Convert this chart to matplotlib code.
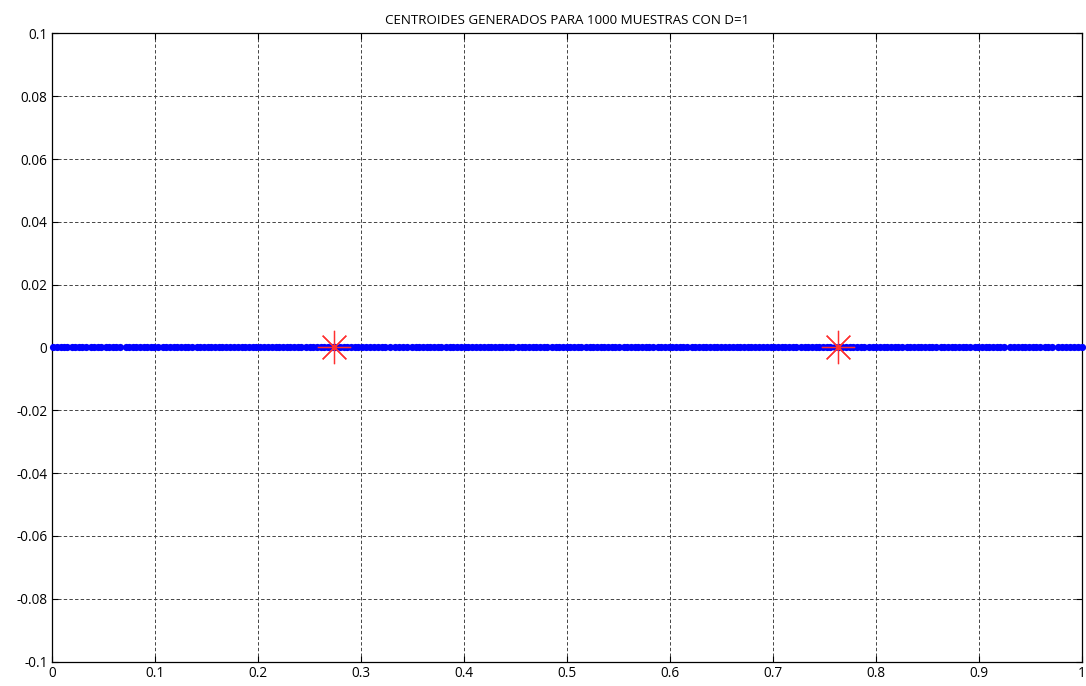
import numpy as np
import matplotlib.pyplot as plt

# muestras (todas con y=0) y centroides encontrados
muestras_x = [
    0.001, 0.004, 0.008, 0.011, 0.014, 0.019, 0.022, 0.026, 0.029, 0.033,
    0.037, 0.040, 0.044, 0.047, 0.052, 0.055, 0.059, 0.062, 0.066, 0.071,
    0.074, 0.078, 0.081, 0.085, 0.089, 0.092, 0.096, 0.099,
    0.103, 0.107, 0.110, 0.114, 0.118, 0.121, 0.125, 0.129, 0.132, 0.136,
    0.140, 0.143, 0.147, 0.151, 0.154, 0.158, 0.162, 0.165, 0.169, 0.173,
    0.176, 0.180, 0.184, 0.187, 0.191, 0.195, 0.198,
    0.202, 0.206, 0.209, 0.213, 0.217, 0.220, 0.224, 0.228, 0.231, 0.235,
    0.239, 0.242, 0.246, 0.250, 0.253, 0.257, 0.261, 0.264, 0.268, 0.272,
    0.275, 0.279, 0.283, 0.286, 0.290, 0.294, 0.297,
    0.301, 0.305, 0.309, 0.312, 0.316, 0.320, 0.323, 0.328, 0.333, 0.337,
    0.341, 0.345, 0.349, 0.353, 0.356, 0.360, 0.364, 0.367, 0.371, 0.375,
    0.378, 0.382, 0.386, 0.389, 0.393, 0.397,
    0.401, 0.404, 0.408, 0.412, 0.415, 0.419, 0.423, 0.426, 0.430, 0.434,
    0.437, 0.441, 0.445, 0.448, 0.452, 0.456, 0.459, 0.463, 0.467, 0.470,
    0.474, 0.478, 0.481, 0.485, 0.489, 0.492, 0.496,
    0.500, 0.503, 0.507, 0.511, 0.514, 0.518, 0.522, 0.525, 0.529, 0.533,
    0.536, 0.540, 0.544, 0.547, 0.551, 0.555, 0.558, 0.562, 0.566, 0.569,
    0.573, 0.577, 0.580, 0.584, 0.588, 0.591, 0.595, 0.599,
    0.602, 0.606, 0.610, 0.613, 0.617, 0.621, 0.624, 0.628, 0.632, 0.635,
    0.639, 0.643, 0.646, 0.650, 0.654, 0.657, 0.661, 0.665, 0.668, 0.672,
    0.676, 0.679, 0.683, 0.687, 0.690, 0.694, 0.698,
    0.701, 0.705, 0.709, 0.712, 0.716, 0.720, 0.723, 0.727, 0.731, 0.734,
    0.738, 0.742, 0.745, 0.749, 0.753, 0.756, 0.760, 0.764, 0.767, 0.771,
    0.775, 0.778, 0.782, 0.786, 0.789, 0.793, 0.797,
    0.800, 0.804, 0.808, 0.811, 0.815, 0.819, 0.822, 0.826, 0.830, 0.833,
    0.837, 0.841, 0.844, 0.848, 0.852, 0.855, 0.859, 0.863, 0.866, 0.870,
    0.874, 0.877, 0.881, 0.885, 0.888, 0.892, 0.896, 0.899,
    0.903, 0.907, 0.910, 0.914, 0.918, 0.921, 0.925, 0.930, 0.934, 0.938,
    0.942, 0.945, 0.949, 0.953, 0.956, 0.960, 0.964, 0.967, 0.971, 0.977,
    0.981, 0.985, 0.989, 0.993, 0.997, 1.000,
]
centroides_x = [0.274, 0.763]

xticks = [0, 0.1, 0.2, 0.3, 0.4, 0.5, 0.6, 0.7, 0.8, 0.9, 1]
xlabels = ["0", "0.1", "0.2", "0.3", "0.4", "0.5", "0.6", "0.7", "0.8", "0.9", "1"]
yticks = [-0.1, -0.08, -0.06, -0.04, -0.02, 0, 0.02, 0.04, 0.06, 0.08, 0.1]
ylabels = ["-0.1", "-0.08", "-0.06", "-0.04", "-0.02", "0",
           "0.02", "0.04", "0.06", "0.08", "0.1"]

plt.rcParams['font.family'] = ['Open Sans', 'DejaVu Sans']

fig = plt.figure(figsize=(10.86, 6.86), dpi=100)
ax = fig.add_axes([0.0483, 0.0357, 0.9476, 0.9155])

ax.plot(muestras_x, np.zeros(len(muestras_x)), 'o', color='#0000ff',
        markersize=5.2, markeredgewidth=0, zorder=3, clip_on=False)
ax.plot(centroides_x, np.zeros(len(centroides_x)), linestyle='none',
        marker=(8, 2, 0), color='#ff3030', markersize=24,
        markeredgewidth=0.9, zorder=4)

ax.set_xlim(0, 1)
ax.set_ylim(-0.1, 0.1)
ax.set_xticks(xticks)
ax.set_xticklabels(xlabels)
ax.set_yticks(yticks)
ax.set_yticklabels(ylabels)
ax.tick_params(direction='in', top=True, right=True, length=4, width=0.8,
               labelsize=9.8, pad=3.5)
ax.grid(True, color='#444444', linestyle=(0, (3.5, 2.3)), linewidth=0.7)
for s in ax.spines.values():
    s.set_linewidth(0.9)

ax.set_title("CENTROIDES GENERADOS PARA 1000 MUESTRAS CON D=1",
             fontsize=9.6, pad=7)

fig.savefig("out.png", dpi=100)
